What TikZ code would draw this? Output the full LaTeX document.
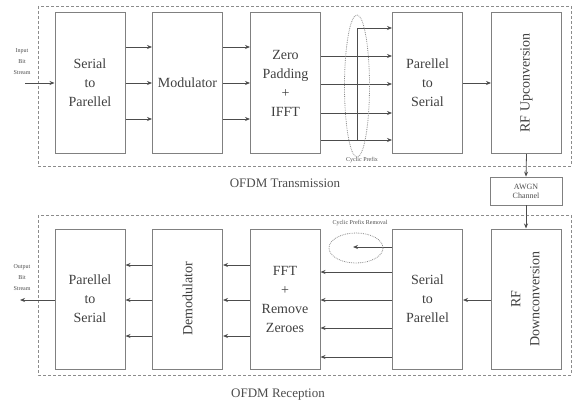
\documentclass[tikz,border=0pt]{standalone}
\usepackage{fontspec}
\setmainfont{Liberation Serif}
\usepackage{tikz}
\usetikzlibrary{positioning,arrows.meta,calc}

\begin{document}
\begin{tikzpicture}[x=1pt, y=-1pt, >={Stealth[length=5pt,width=4pt]},
  blk/.style={draw=black!50, line width=1pt, minimum width=70pt, minimum height=141pt, inner sep=2pt,
    align=center, text=black!75, font=\fontsize{14}{19}\selectfont},
  frame/.style={draw=black!45, densely dashed, line width=0.8pt},
  tag/.style={text=black!70, align=center, font=\fontsize{6}{11}\selectfont},
  lbl/.style={text=black!70, font=\fontsize{13}{15}\selectfont},
  sig/.style={->, black!70, line width=0.8pt},
  grp/.style={draw=black!45, densely dotted, line width=0.8pt}]
  \useasboundingbox (0,0) rectangle (573,404);
  \def\ty{83}
  \def\by{299}
  % transmission chain
  \draw[frame] (38,6) rectangle (571,166);
  \node[blk] (s2p) at (90,\ty) {Serial\\to\\Parellel};
  \node[blk] (mod) at (187.5,\ty) {Modulator};
  \node[blk] (zp) at (285.5,\ty) {Zero\\Padding\\+\\IFFT};
  \node[blk] (p2s) at (427.5,\ty) {Parellel\\to\\Serial};
  \node[blk] (rfup) at (526.5,\ty) {\rotatebox{90}{RF Upconversion}};
  \node[tag] (inp) at (22,62) {Input\\Bit\\Stream};
  \coordinate (src) at (25,\ty);
  \draw[sig] (src) -- (s2p.west |- src);
  \foreach \y in {47,83,119} {
    \draw[sig] (s2p.east |- 0,\y) -- (mod.west |- 0,\y);
    \draw[sig] (mod.east |- 0,\y) -- (zp.west |- 0,\y);
  }
  \foreach \y in {56,84,113,140}
    \draw[sig] (zp.east |- 0,\y) -- (p2s.west |- 0,\y);
  \coordinate (cp) at (357,28);
  \draw[sig] (cp |- 0,140) -- (cp) -- (p2s.west |- cp);
  \draw[grp] (357,86) ellipse (12.5 and 71);
  \node[tag] (cplab) at (362,160) {Cyclic Prefix};
  \draw[sig] (p2s.east |- 0,\ty) -- (rfup.west |- 0,\ty);
  \node[lbl] (txlab) at (285,183) {OFDM Transmission};
  % channel
  \node[draw=black!50, line width=0.8pt, minimum width=72pt, minimum height=28pt, inner sep=1pt,
    tag, font=\fontsize{8}{9}\selectfont] (awgn) at (526,191) {AWGN\\Channel};
  \draw[sig] (rfup.south) -- (awgn.north);
  % reception chain
  \draw[frame] (38,215) rectangle (571,375);
  \node[blk, minimum height=140pt] (rp2s) at (90,\by) {Parellel\\to\\Serial};
  \node[blk, minimum height=140pt] (demod) at (187.5,\by) {\rotatebox{90}{Demodulator}};
  \node[blk, minimum height=140pt] (fft) at (285,\by) {FFT\\+\\Remove\\Zeroes};
  \node[blk, minimum height=140pt] (rs2p) at (427.5,\by) {Serial\\to\\Parellel};
  \node[blk, minimum height=140pt] (rfdn) at (526,\by) {\rotatebox{90}{\begin{tabular}{@{}c@{}}RF\\Downconversion\end{tabular}}};
  \draw[sig] (awgn.south) -- (rfdn.north);
  \draw[sig] (rfdn.west |- 0,300) -- (rs2p.east |- 0,300);
  \foreach \y in {272,300,328,357}
    \draw[sig] (rs2p.west |- 0,\y) -- (fft.east |- 0,\y);
  \coordinate (rcp) at (353,247);
  \draw[sig] (rs2p.west |- rcp) -- (rcp);
  \draw[grp] (356,248) ellipse (27 and 15);
  \node[tag] (rcplab) at (360,223) {Cyclic Prefix Removal};
  \foreach \y in {265,300,336} {
    \draw[sig] (fft.west |- 0,\y) -- (demod.east |- 0,\y);
    \draw[sig] (demod.west |- 0,\y) -- (rp2s.east |- 0,\y);
  }
  \node[tag] (outp) at (22,278) {Output\\Bit\\Stream};
  \coordinate (snk) at (20,300);
  \draw[sig] (rp2s.west |- snk) -- (snk);
  \node[lbl] (rxlab) at (278,395) {OFDM Reception};
\end{tikzpicture}
\end{document}
